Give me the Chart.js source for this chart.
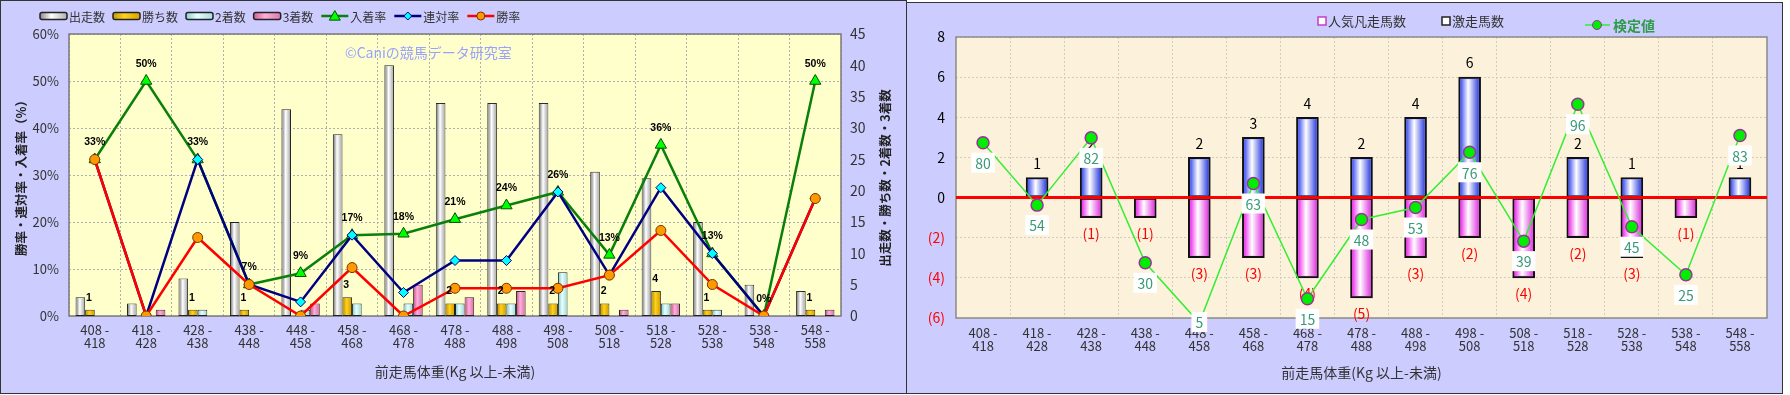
<!doctype html>
<html lang="ja">
<head>
<meta charset="UTF-8" />
<title>前走馬体重別成績</title>
<script src="https://cdn.jsdelivr.net/npm/chart.js@4.4.1/dist/chart.umd.min.js"></script>
<style>
    html, body { margin: 0; padding: 0; background: #fff; }
    body { width: 1790px; height: 395px; position: relative; overflow: hidden; }
    .panel { position: absolute; box-sizing: border-box; border: 1px solid #333; background: #ccccff; }
    #leftPanel { left: 0; top: 0; width: 907px; height: 394px; }
    #rightPanel { left: 906px; top: 2px; width: 877px; height: 392px; }
    .panel canvas { position: absolute; left: 0; top: 0; }
</style>
</head>
<body>
<div class="panel" id="leftPanel"><canvas id="leftChart" width="905" height="392"></canvas></div>
<div class="panel" id="rightPanel"><canvas id="rightChart" width="875" height="390"></canvas></div>

<script>
// weight bins (Kg, from - to)
const bins = ['408 - 418', '418 - 428', '428 - 438', '438 - 448', '448 - 458', '458 - 468', '468 - 478',
    '478 - 488', '488 - 498', '498 - 508', '508 - 518', '518 - 528', '528 - 538', '538 - 548', '548 - 558'];

// left chart: counts
const runners = [3, 2, 6, 15, 33, 29, 40, 34, 34, 34, 23, 22, 15, 5, 4];
const wins    = [1, 0, 1, 1, 0, 3, 0, 2, 2, 2, 2, 4, 1, 0, 1];
const seconds = [0, 0, 1, 0, 1, 2, 2, 2, 2, 7, 0, 2, 1, 0, 0];
const thirds  = [0, 1, 0, 0, 2, 0, 5, 3, 4, 0, 1, 2, 0, 0, 1];
// left chart: rates (%)
const showRate = [33.3, 50.0, 33.3, 6.7, 9.1, 17.2, 17.5, 20.6, 23.5, 26.4, 13.0, 36.4, 13.3, 0, 50.0];
const quinRate = [33.3, 0, 33.3, 6.7, 3.0, 17.2, 5.0, 11.8, 11.8, 26.4, 8.7, 27.3, 13.3, 0, 25.0];
const winRate  = [33.3, 0, 16.7, 6.7, 0, 10.3, 0, 5.9, 5.9, 5.9, 8.7, 18.2, 6.7, 0, 25.0];

// right chart
const flopCount  = [0, 0, 1, 1, 3, 3, 4, 5, 3, 2, 4, 2, 3, 1, 0];   // 人気凡走馬数 (down)
const upsetCount = [0, 1, 2, 0, 2, 3, 4, 2, 4, 6, 0, 2, 1, 0, 1];   // 激走馬数 (up)
const testValue  = [80, 54, 82, 30, 5, 63, 15, 48, 53, 76, 39, 96, 45, 25, 83];

const FONT = "'Noto Sans CJK JP', 'Noto Sans', sans-serif";
Chart.defaults.font.family = FONT;
Chart.defaults.color = '#333';
Chart.defaults.animation = false;

const binLabels = bins.map((b) => {
    const p = b.split(' - ');
    return [p[0] + ' -', p[1]];
});

function drawMarker(ctx, style, x, y, r, fill, stroke) {
    ctx.save();
    ctx.fillStyle = fill;
    ctx.strokeStyle = stroke;
    ctx.lineWidth = 1;
    ctx.beginPath();
    if (style === 'triangle') {
        ctx.moveTo(x, y - r);
        ctx.lineTo(x + r, y + r * 0.75);
        ctx.lineTo(x - r, y + r * 0.75);
        ctx.closePath();
    } else if (style === 'rectRot') {
        ctx.moveTo(x, y - r);
        ctx.lineTo(x + r, y);
        ctx.lineTo(x, y + r);
        ctx.lineTo(x - r, y);
        ctx.closePath();
    } else {
        ctx.arc(x, y, r, 0, Math.PI * 2);
    }
    ctx.fill();
    ctx.stroke();
    ctx.restore();
}

function barGradient(ctx, x0, w, shade) {
    const g = ctx.createLinearGradient(x0, 0, x0 + w, 0);
    g.addColorStop(0, shade[0]);
    g.addColorStop(0.42, shade[1]);
    g.addColorStop(1, shade[2]);
    return g;
}

// fills plot area and frames it
const plotArea = {
    id: 'plotArea',
    beforeDraw(chart, args, opts) {
        const { ctx, chartArea: a } = chart;
        ctx.save();
        ctx.fillStyle = opts.color;
        ctx.fillRect(a.left, a.top, a.width, a.height);
        ctx.restore();
    },
    beforeDatasetsDraw(chart, args, opts) {
        const { ctx, chartArea: a } = chart;
        ctx.save();
        ctx.strokeStyle = opts.frame;
        ctx.lineWidth = 1.5;
        ctx.strokeRect(a.left, a.top, a.width, a.height);
        ctx.restore();
    }
};

// cylinder-like shading on bars
const barShading = {
    id: 'barShading',
    afterDatasetDraw(chart, args) {
        const ds = chart.data.datasets[args.index];
        if (!ds.shade) return;
        const ctx = chart.ctx;
        const bw = ds.borderWidth || 0;
        ctx.save();
        args.meta.data.forEach((bar) => {
            const { x, y, base, width } = bar.getProps(['x', 'y', 'base', 'width'], true);
            const h = Math.abs(base - y);
            if (h <= bw * 2) return;
            const x0 = x - width / 2 + bw;
            ctx.fillStyle = barGradient(ctx, x0, width - bw * 2, ds.shade);
            ctx.fillRect(x0, Math.min(y, base) + bw, width - bw * 2, h - bw * 2);
        });
        ctx.restore();
    }
};

const leftExtras = {
    id: 'leftExtras',
    beforeDatasetsDraw(chart) {
        const ctx = chart.ctx;
        ctx.save();
        ctx.font = `14px ${FONT}`;
        ctx.fillStyle = '#9aa2ff';
        ctx.textBaseline = 'middle';
        ctx.fillText('©Caniの競馬データ研究室', 344, 52);
        ctx.restore();
    },
    afterDatasetsDraw(chart) {
        const ctx = chart.ctx;
        ctx.save();
        ctx.font = "bold 10.5px 'Liberation Sans', sans-serif";
        ctx.textAlign = 'center';
        ctx.textBaseline = 'middle';
        ctx.fillStyle = '#000';
        chart.getDatasetMeta(4).data.forEach((pt, i) => {
            ctx.fillText(Math.round(showRate[i]) + '%', pt.x, pt.y - 17);
        });
        chart.getDatasetMeta(1).data.forEach((bar, i) => {
            if (wins[i] > 0) ctx.fillText(String(wins[i]), bar.x - 1, bar.y - 12);
        });
        ctx.restore();
    },
    afterDraw(chart) {
        const ctx = chart.ctx;
        // right axis title
        ctx.save();
        ctx.translate(884, 177);
        ctx.rotate(-Math.PI / 2);
        ctx.font = `bold 12.5px ${FONT}`;
        ctx.fillStyle = '#222';
        ctx.textAlign = 'center';
        ctx.textBaseline = 'middle';
        ctx.fillText('出走数・勝ち数・2着数・3着数', 0, 0);
        ctx.restore();

        // legend
        ctx.save();
        ctx.font = `12px ${FONT}`;
        ctx.textBaseline = 'middle';
        let x = 39;
        const y = 15;
        chart.data.datasets.forEach((ds) => {
            if (ds.type === 'line') {
                ctx.strokeStyle = ds.borderColor;
                ctx.lineWidth = 2.5;
                ctx.beginPath();
                ctx.moveTo(x, y);
                ctx.lineTo(x + 27, y);
                ctx.stroke();
                drawMarker(ctx, ds.pointStyle, x + 13.5, y, ds.pointRadius - 1,
                    ds.pointBackgroundColor, ds.pointBorderColor);
            } else {
                ctx.fillStyle = barGradient(ctx, x, 27, ds.shade);
                ctx.beginPath();
                ctx.roundRect(x, y - 3.5, 27, 7, 2);
                ctx.fill();
                ctx.strokeStyle = '#222';
                ctx.lineWidth = 1.5;
                ctx.stroke();
            }
            ctx.fillStyle = '#333';
            ctx.fillText(ds.label, x + 29, y + 1);
            x += 29 + ctx.measureText(ds.label).width + 8;
        });
        ctx.restore();
    }
};

const rightExtras = {
    id: 'rightExtras',
    beforeDatasetDraw(chart, args) {
        if (args.index !== 2) return;
        const ctx = chart.ctx;
        const a = chart.chartArea;
        const y0 = chart.scales.y.getPixelForValue(0);
        ctx.save();
        ctx.strokeStyle = '#ff0000';
        ctx.lineWidth = 3;
        ctx.beginPath();
        ctx.moveTo(a.left, y0);
        ctx.lineTo(a.right, y0);
        ctx.stroke();
        ctx.font = `14px ${FONT}`;
        ctx.textAlign = 'center';
        ctx.textBaseline = 'middle';
        chart.getDatasetMeta(1).data.forEach((bar, i) => {
            if (upsetCount[i] > 0) {
                ctx.fillStyle = '#000';
                ctx.fillText(String(upsetCount[i]), bar.x, bar.y - 14);
            }
        });
        chart.getDatasetMeta(0).data.forEach((bar, i) => {
            if (flopCount[i] > 0) {
                ctx.fillStyle = '#ff0000';
                ctx.fillText(`(${flopCount[i]})`, bar.x, bar.y + 16);
            }
        });
        ctx.restore();
    },
    afterDatasetsDraw(chart) {
        const ctx = chart.ctx;
        const a = chart.chartArea;
        ctx.save();
        ctx.font = `14px ${FONT}`;
        ctx.textAlign = 'center';
        ctx.textBaseline = 'middle';
        chart.getDatasetMeta(2).data.forEach((pt, i) => {
            const t = String(testValue[i]);
            const w = ctx.measureText(t).width + 8;
            const ly = Math.min(pt.y + 20, a.bottom + 4);
            ctx.fillStyle = '#fff';
            ctx.fillRect(pt.x - w / 2, ly - 10, w, 20);
            ctx.fillStyle = '#3a9a78';
            ctx.fillText(t, pt.x, ly + 1);
        });
        ctx.restore();
    },
    afterDraw(chart) {
        const ctx = chart.ctx;
        const ds = chart.data.datasets;
        ctx.save();
        ctx.textBaseline = 'middle';
        ctx.font = `13px ${FONT}`;
        // bar legends
        [[411, ds[0], '#c040c0'], [535, ds[1], '#222']].forEach(([x, d, edge]) => {
            ctx.fillStyle = '#fff';
            ctx.fillRect(x, 14, 8, 8);
            ctx.strokeStyle = edge;
            ctx.lineWidth = 1.5;
            ctx.strokeRect(x, 14, 8, 8);
            ctx.fillStyle = '#333';
            ctx.fillText(d.label, x + 10, 18);
        });
        // line legend
        const lx = 678;
        const ly = 22;
        ctx.strokeStyle = ds[2].borderColor;
        ctx.lineWidth = 1.5;
        ctx.beginPath();
        ctx.moveTo(lx, ly);
        ctx.lineTo(lx + 25, ly);
        ctx.stroke();
        drawMarker(ctx, 'circle', lx + 12, ly, 4.5, ds[2].pointBackgroundColor, ds[2].pointBorderColor);
        ctx.font = `bold 14px ${FONT}`;
        ctx.fillStyle = '#2f9a4a';
        ctx.fillText(ds[2].label, lx + 28, ly + 1);
        ctx.restore();
    }
};

const barBase = {
    yAxisID: 'y1',
    borderColor: '#222',
    borderWidth: 1,
    borderSkipped: false,
    categoryPercentage: 0.745,
    barPercentage: 1.0,
    order: 3
};

new Chart(document.getElementById('leftChart'), {
    type: 'bar',
    data: {
        labels: binLabels,
        datasets: [
            { ...barBase, label: '出走数', data: runners, backgroundColor: '#e6e6e6', shade: ['#8a8a8a', '#ffffff', '#b0b0b0'] },
            { ...barBase, label: '勝ち数', data: wins, backgroundColor: '#f2bc00', shade: ['#c99a00', '#ffd21f', '#d6a300'] },
            { ...barBase, label: '2着数', data: seconds, backgroundColor: '#c8f4f4', shade: ['#8fcfcf', '#eaffff', '#a6dede'] },
            { ...barBase, label: '3着数', data: thirds, backgroundColor: '#ee8fc0', shade: ['#d0609a', '#ffb0d8', '#de78ae'] },
            {
                type: 'line', label: '入着率', data: showRate, yAxisID: 'y', order: 2,
                borderColor: '#0a800a', borderWidth: 2.5, pointStyle: 'triangle', pointRadius: 6.5,
                pointBackgroundColor: '#00ff00', pointBorderColor: '#005500', pointBorderWidth: 1
            },
            {
                type: 'line', label: '連対率', data: quinRate, yAxisID: 'y', order: 1,
                borderColor: '#000080', borderWidth: 2.5, pointStyle: 'rectRot', pointRadius: 5,
                pointBackgroundColor: '#00ffff', pointBorderColor: '#000080', pointBorderWidth: 1
            },
            {
                type: 'line', label: '勝率', data: winRate, yAxisID: 'y', order: 0,
                borderColor: '#ff0000', borderWidth: 2.5, pointStyle: 'circle', pointRadius: 5,
                pointBackgroundColor: '#ff9900', pointBorderColor: '#7a3300', pointBorderWidth: 1
            }
        ]
    },
    options: {
        responsive: false,
        animation: false,
        layout: { padding: { top: 33, left: 0, right: 0, bottom: 0 } },
        plugins: {
            legend: { display: false },
            tooltip: { enabled: false },
            plotArea: { color: '#ffffcc', frame: '#7a7a7a' }
        },
        scales: {
            x: {
                afterFit: (s) => { s.height = 77; },
                grid: { color: '#b0b0b0', drawTicks: false },
                border: { display: false, dash: [2, 2] },
                ticks: { autoSkip: false, maxRotation: 0, padding: 8, color: '#333', font: { size: 13, lineHeight: 1.0 } },
                title: { display: true, text: '前走馬体重(Kg 以上-未満)', color: '#333', font: { size: 14 }, padding: { top: 0, bottom: 13 } }
            },
            y: {
                position: 'left',
                min: 0, max: 60,
                afterFit: (s) => { s.width = 68; },
                grid: { color: '#b0b0b0', drawTicks: false },
                border: { display: false, dash: [2, 2] },
                ticks: { stepSize: 10, padding: 10, color: '#333', font: { size: 13 }, callback: (v) => v + '%' },
                title: { display: true, text: '勝率・連対率・入着率（%）', color: '#222', font: { size: 12.5, weight: 'bold' }, padding: { top: 13, bottom: 0 } }
            },
            y1: {
                position: 'right',
                min: 0, max: 45,
                afterFit: (s) => { s.width = 65; },
                grid: { display: false, drawTicks: false },
                border: { display: false },
                ticks: { stepSize: 5, padding: 9, color: '#333', font: { size: 14 } }
            }
        }
    },
    plugins: [plotArea, barShading, leftExtras]
});

new Chart(document.getElementById('rightChart'), {
    type: 'bar',
    data: {
        labels: binLabels,
        datasets: [
            {
                label: '人気凡走馬数', data: flopCount.map((v) => -v), order: 2, grouped: false,
                barThickness: 22, backgroundColor: '#f070f0', borderColor: '#111', borderWidth: 2,
                borderSkipped: false, shade: ['#ee33ee', '#ffffff', '#e040e0']
            },
            {
                label: '激走馬数', data: upsetCount, order: 2, grouped: false,
                barThickness: 22, backgroundColor: '#8090ff', borderColor: '#111', borderWidth: 2,
                borderSkipped: false, shade: ['#4455f0', '#ffffff', '#3848e0']
            },
            {
                type: 'line', label: '検定値', data: testValue, yAxisID: 'y2', order: 0, clip: false,
                borderColor: '#33ee33', borderWidth: 1.5, pointStyle: 'circle', pointRadius: 6,
                pointBackgroundColor: '#00ee00', pointBorderColor: '#993399', pointBorderWidth: 1.5
            }
        ]
    },
    options: {
        responsive: false,
        animation: false,
        layout: { padding: { top: 34, left: 0, right: 15, bottom: 0 } },
        plugins: {
            legend: { display: false },
            tooltip: { enabled: false },
            plotArea: { color: '#fcf1da', frame: '#8a8a8a' }
        },
        scales: {
            x: {
                afterFit: (s) => { s.height = 75; },
                grid: { color: '#d2cbc0', drawTicks: false },
                border: { display: false, dash: [2, 2] },
                ticks: { autoSkip: false, maxRotation: 0, padding: 9, color: '#333', font: { size: 13, lineHeight: 1.0 } },
                title: { display: true, text: '前走馬体重(Kg 以上-未満)', color: '#333', font: { size: 14 }, padding: { top: 0, bottom: 12 } }
            },
            y: {
                min: -6, max: 8,
                afterFit: (s) => { s.width = 49; },
                grid: { color: '#d2cbc0', drawTicks: false },
                border: { display: false, dash: [2, 2] },
                ticks: {
                    stepSize: 2, padding: 11, font: { size: 14 },
                    color: (c) => (c.tick.value < 0 ? '#ff0000' : '#000'),
                    callback: (v) => (v < 0 ? `(${-v})` : String(v))
                }
            },
            y2: { display: false, min: 7, max: 124 }
        }
    },
    plugins: [plotArea, barShading, rightExtras]
});
</script>
</body>
</html>
